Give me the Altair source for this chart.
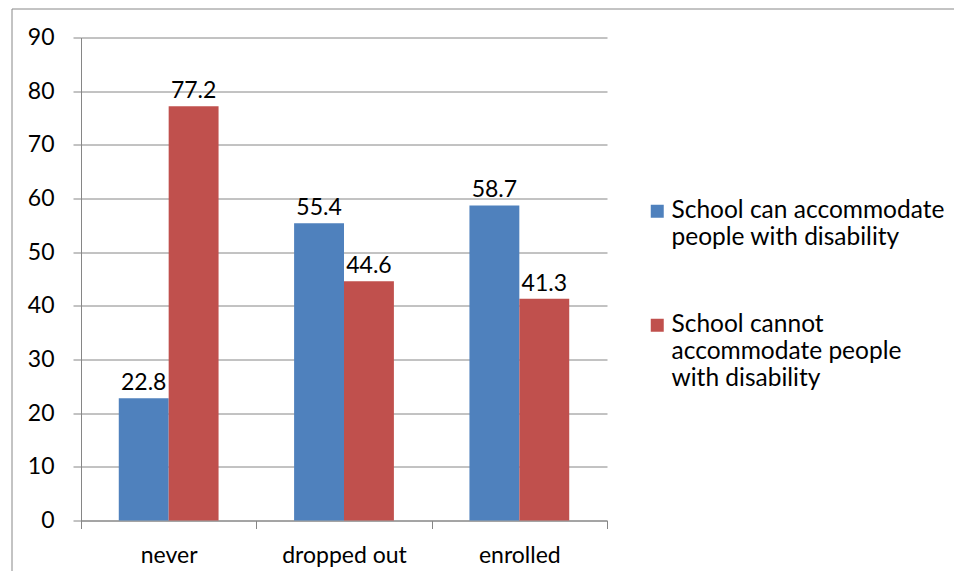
import altair as alt
import pandas as pd

categories = ["never", "dropped out", "enrolled"]
series = [
    "School can accommodate\npeople with disability",
    "School cannot\naccommodate people\nwith disability",
]
can_values = [22.8, 55.4, 58.7]
cannot_values = [77.2, 44.6, 41.3]
y_ticks = [0, 10, 20, 30, 40, 50, 60, 70, 80, 90]
colors = ["#4F81BD", "#C0504D"]

rows = []
for c, v in zip(categories, can_values):
    rows.append({"category": c, "series": series[0], "value": v})
for c, v in zip(categories, cannot_values):
    rows.append({"category": c, "series": series[1], "value": v})
df = pd.DataFrame(rows)

FONT = "Lato"
FS = 23
LFS = 24.5
GRID = "#868686"

x_enc = alt.X(
    "category:N",
    sort=categories,
    scale=alt.Scale(paddingInner=0, paddingOuter=0),
    axis=alt.Axis(
        title=None,
        labelAngle=0,
        tickBand="extent",
        domainColor=GRID,
        tickColor=GRID,
        tickSize=8,
        labelPadding=16,
        labelFont=FONT,
        labelFontSize=FS,
        labelColor="#000000",
        grid=False,
    ),
)
xoff_enc = alt.XOffset(
    "series:N",
    sort=series,
    scale=alt.Scale(paddingInner=0, paddingOuter=0.757),
)
y_enc = alt.Y(
    "value:Q",
    scale=alt.Scale(domain=[0, 90], nice=False),
    axis=alt.Axis(
        title=None,
        values=y_ticks,
        grid=True,
        gridColor=GRID,
        gridWidth=1,
        domainColor=GRID,
        tickColor=GRID,
        tickSize=8,
        labelPadding=19,
        labelFont=FONT,
        labelFontSize=FS,
        labelColor="#000000",
    ),
)

base = alt.Chart(df)

bars = base.mark_bar(stroke=None).encode(
    x=x_enc,
    xOffset=xoff_enc,
    y=y_enc,
    color=alt.Color(
        "series:N",
        sort=series,
        scale=alt.Scale(domain=series, range=colors),
        legend=alt.Legend(
            title=None,
            orient="none",
            legendX=564,
            legendY=168,
            padding=0,
            symbolType="M-1,-2H1V0H-1Z",
            symbolSize=169,
            symbolStrokeWidth=0,
            labelBaseline="alphabetic",
            labelOffset=2,
            labelFont=FONT,
            labelFontSize=LFS,
            labelColor="#000000",
            labelLimit=400,
            labelExpr="split(datum.label, '\\n')",
            rowPadding=62,
        ),
    ),
)

labels = base.mark_text(
    baseline="alphabetic", dy=-8, font=FONT, fontSize=FS, color="#000000"
).encode(
    x=alt.X("category:N", sort=categories),
    xOffset=alt.XOffset("series:N", sort=series),
    y="value:Q",
    text=alt.Text("value:Q", format=".1f"),
)

border = alt.Chart(pd.DataFrame({"b": [0]})).mark_rect(
    fill=None, stroke="#888888", strokeWidth=1
).encode(
    x=alt.value(-69),
    x2=alt.value(900),
    y=alt.value(-28.5),
    y2=alt.value(600),
)

chart = (
    alt.layer(border, bars, labels)
    .properties(
        width=526,
        height=483,
        autosize=alt.AutoSizeParams(type="none"),
        padding={"left": 73, "top": 29.5, "right": 347, "bottom": 50},
        background="#ffffff",
    )
    .configure(style={"guide-label": {"lineHeight": 27}})
    .configure_view(stroke=None)
)

chart.save("out.html", embed_options={"renderer": "svg", "actions": False})
